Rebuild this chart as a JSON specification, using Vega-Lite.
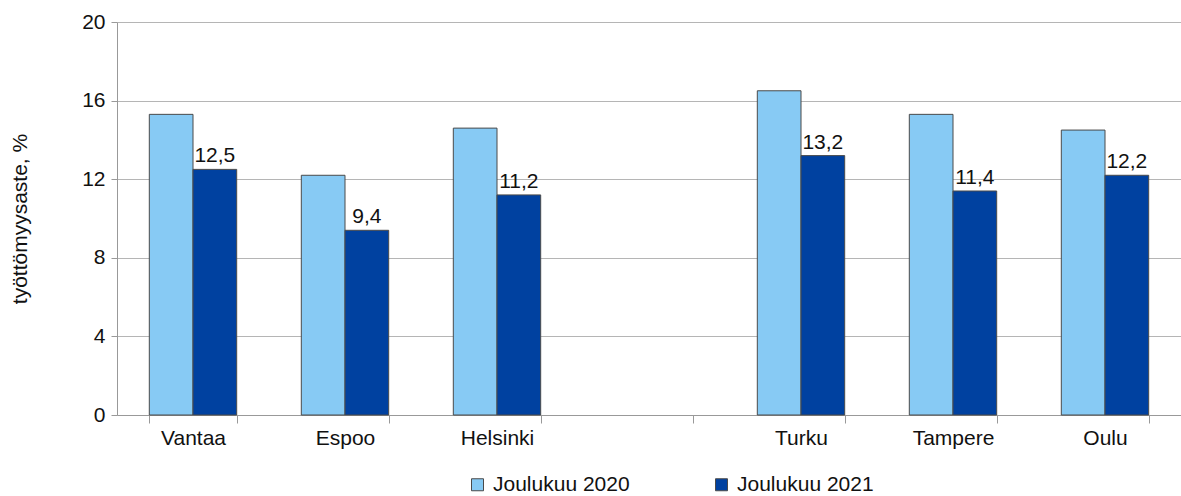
{
  "$schema": "https://vega.github.io/schema/vega-lite/v6.json",
  "width": 1064,
  "height": 393,
  "autosize": {"type": "none"},
  "padding": {"left": 117, "top": 22, "right": 0, "bottom": 81},
  "config": {
    "font": "Liberation Sans",
    "view": {"stroke": null},
    "locale": {"number": {"decimal": ",", "thousands": " ", "grouping": [3], "currency": ["", " €"]}}
  },
  "data": {
    "values": [
      {"kunta": "Vantaa", "sarja": "Joulukuu 2020", "arvo": 15.3},
      {"kunta": "Vantaa", "sarja": "Joulukuu 2021", "arvo": 12.5},
      {"kunta": "Espoo", "sarja": "Joulukuu 2020", "arvo": 12.2},
      {"kunta": "Espoo", "sarja": "Joulukuu 2021", "arvo": 9.4},
      {"kunta": "Helsinki", "sarja": "Joulukuu 2020", "arvo": 14.6},
      {"kunta": "Helsinki", "sarja": "Joulukuu 2021", "arvo": 11.2},
      {"kunta": "Turku", "sarja": "Joulukuu 2020", "arvo": 16.5},
      {"kunta": "Turku", "sarja": "Joulukuu 2021", "arvo": 13.2},
      {"kunta": "Tampere", "sarja": "Joulukuu 2020", "arvo": 15.3},
      {"kunta": "Tampere", "sarja": "Joulukuu 2021", "arvo": 11.4},
      {"kunta": "Oulu", "sarja": "Joulukuu 2020", "arvo": 14.5},
      {"kunta": "Oulu", "sarja": "Joulukuu 2021", "arvo": 12.2}
    ]
  },
  "encoding": {
    "x": {
      "field": "kunta",
      "type": "nominal",
      "scale": {"domain": ["Vantaa", "Espoo", "Helsinki", " ", "Turku", "Tampere", "Oulu"], "paddingInner": 0.425, "paddingOuter": 0.2125},
      "axis": {
        "title": null,
        "labelAngle": 0,
        "labelFontSize": 21,
        "labelColor": "#111111",
        "labelPadding": 4,
        "tickBand": "extent",
        "tickSize": 8,
        "tickColor": "#999999",
        "domainColor": "#999999",
        "grid": false
      }
    },
    "xOffset": {"field": "sarja", "type": "nominal", "scale": {"paddingInner": 0, "paddingOuter": 0}},
    "y": {
      "field": "arvo",
      "type": "quantitative",
      "scale": {"domain": [0, 20], "nice": false},
      "axis": {
        "title": "työttömyysaste,  %",
        "titleFontSize": 21,
        "titleFontWeight": "normal",
        "titleColor": "#111111",
        "titlePadding": 51,
        "values": [0, 4, 8, 12, 16, 20],
        "labelFontSize": 21,
        "labelColor": "#111111",
        "labelPadding": 6,
        "tickSize": 6,
        "tickColor": "#999999",
        "domainColor": "#999999",
        "gridColor": "#b5b5b5",
        "format": "d"
      }
    }
  },
  "layer": [
    {
      "mark": {"type": "bar", "stroke": "#4a4a4a", "strokeWidth": 1},
      "encoding": {
        "color": {
          "field": "sarja",
          "type": "nominal",
          "scale": {"domain": ["Joulukuu 2020", "Joulukuu 2021"], "range": ["#87CAF4", "#0041A0"]},
          "legend": {
            "title": null,
            "orient": "none",
            "direction": "horizontal",
            "legendX": 350,
            "legendY": 452,
            "symbolType": "square",
            "symbolSize": 144,
            "symbolStrokeColor": "#4a4a4a",
            "symbolStrokeWidth": 1,
            "labelFontSize": 21,
            "labelColor": "#111111",
            "labelOffset": 5,
            "columnPadding": 81
          }
        }
      }
    },
    {
      "transform": [{"filter": "datum.sarja === 'Joulukuu 2021'"}],
      "mark": {"type": "text", "dy": -13, "fontSize": 21, "color": "#111111"},
      "encoding": {
        "text": {"field": "arvo", "type": "quantitative", "format": ".1f"}
      }
    }
  ]
}
